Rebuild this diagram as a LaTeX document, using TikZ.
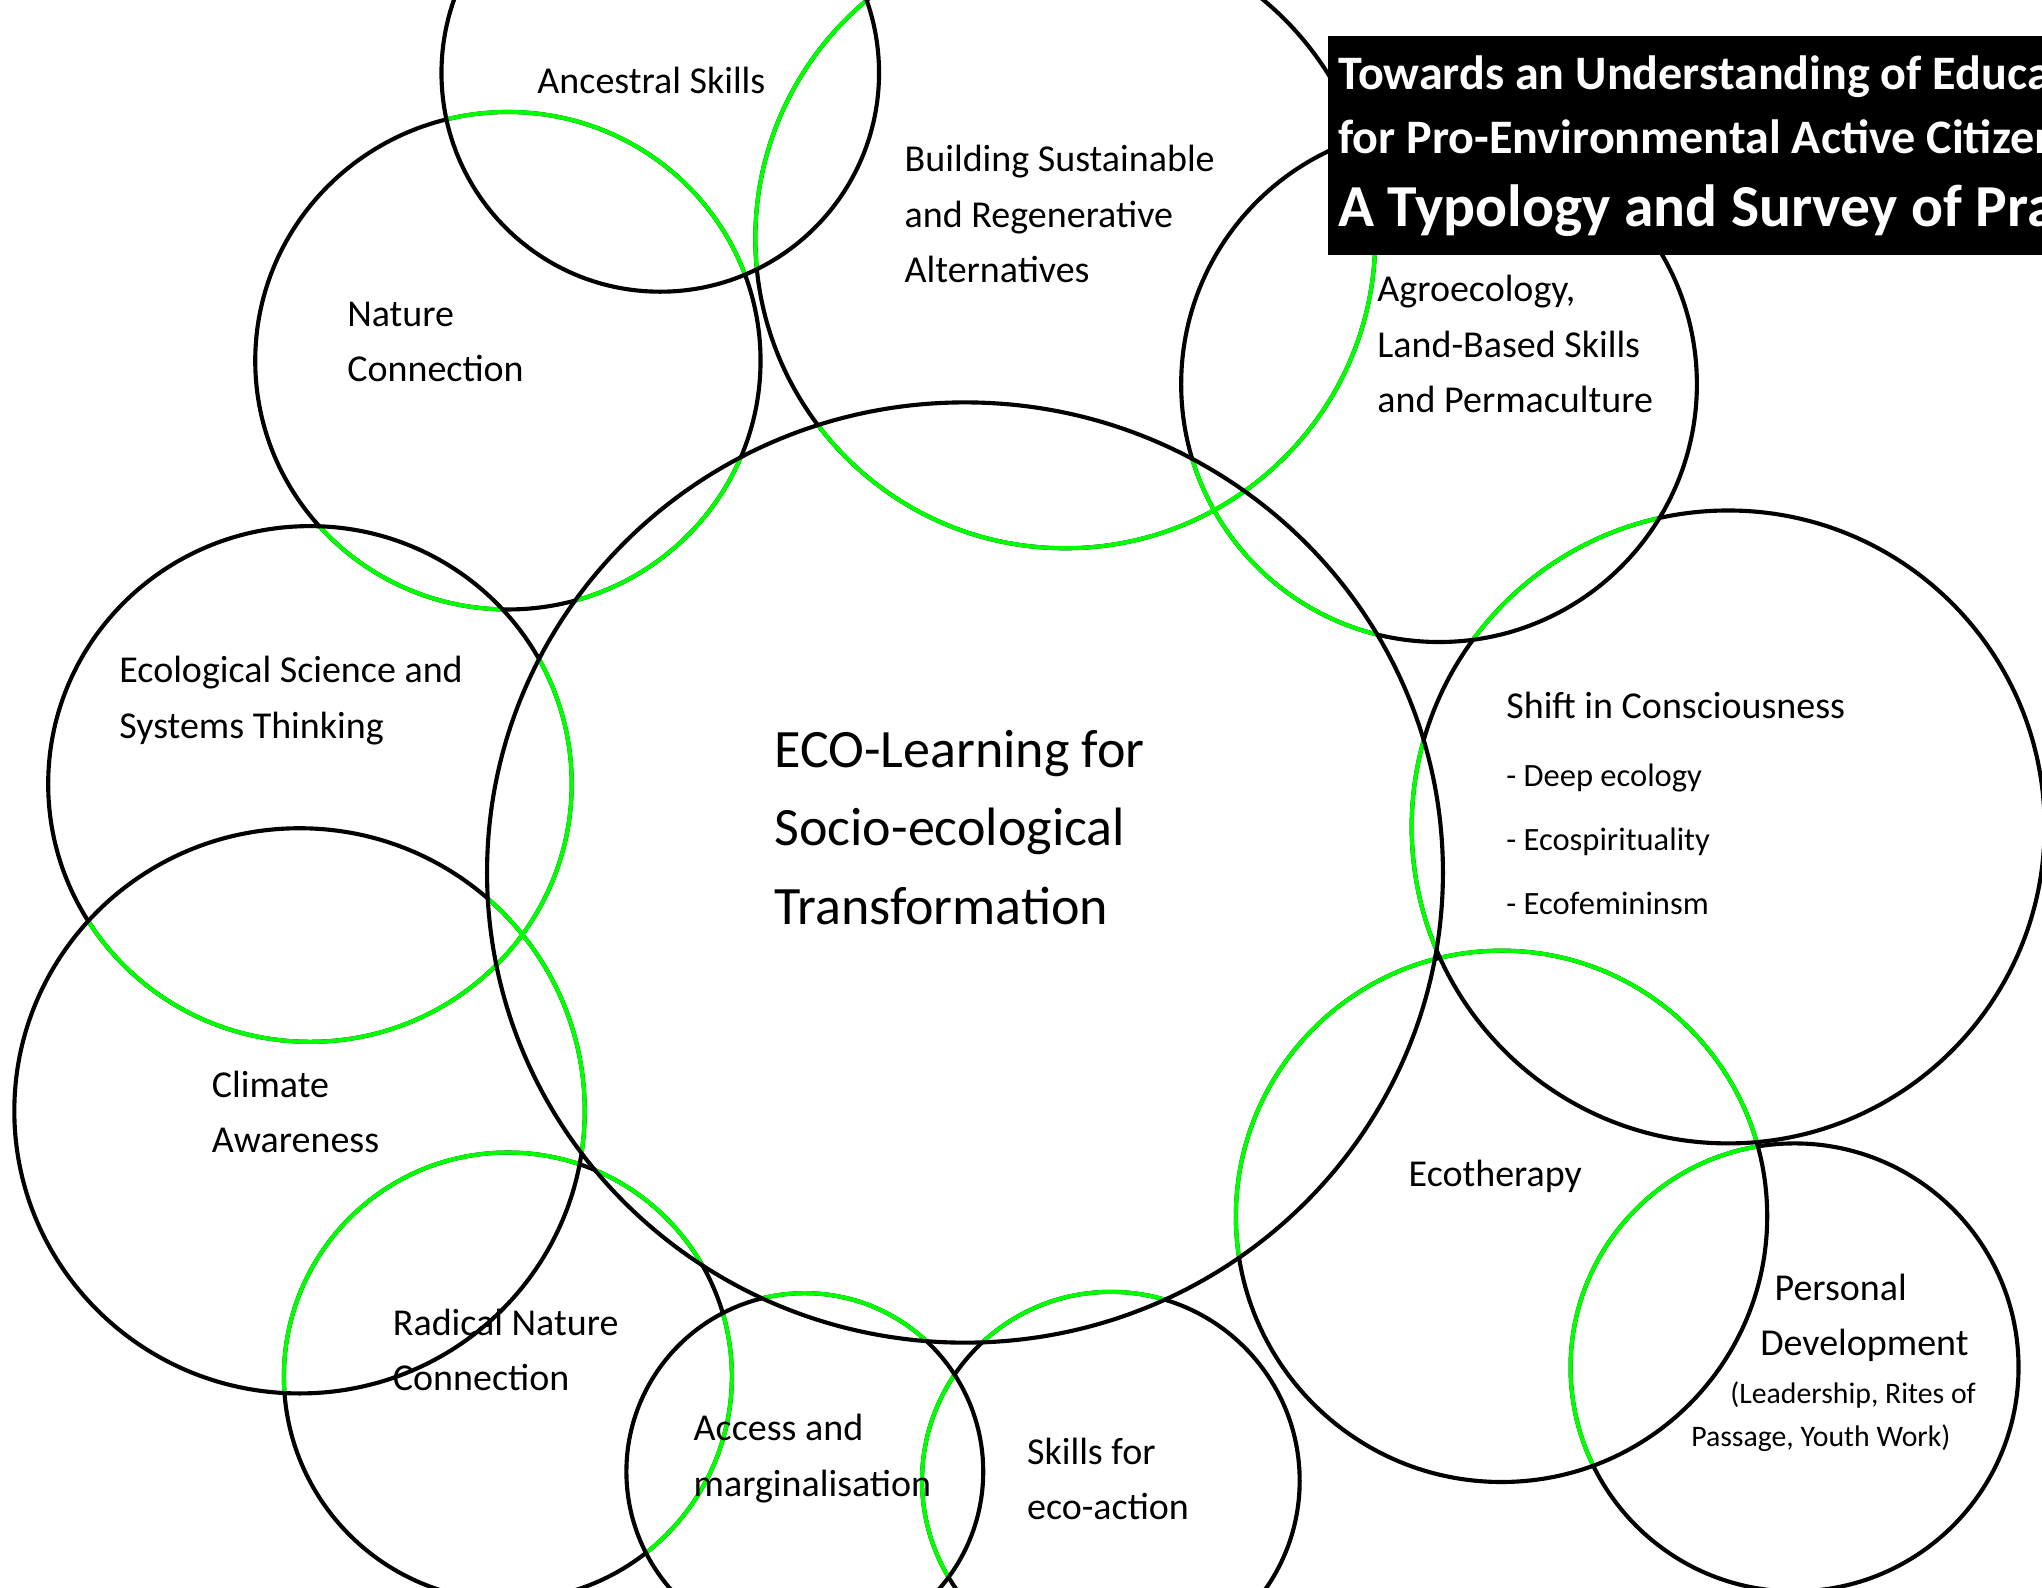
\documentclass[tikz,border=0pt]{standalone}
\usepackage{fontspec}
\setmainfont{Carlito}
\definecolor{ringgreen}{RGB}{0,255,0}
\tikzset{
  ring/.style={line width=0.9pt},
  ringtext/.style={font=\fontsize{8.3}{12.1}\selectfont, align=left, anchor=base west, inner sep=0pt},
  listtext/.style={font=\fontsize{7.1}{13.9}\selectfont, align=left, anchor=base west, inner sep=0pt},
  notetext/.style={font=\fontsize{6.5}{9}\selectfont, anchor=base west, inner sep=0pt},
  hubtext/.style={font=\fontsize{11.8}{17.2}\selectfont, align=left, anchor=base west, inner sep=0pt},
  titletext/.style={text=white, font=\bfseries\fontsize{10.5}{12}\selectfont, anchor=base west, inner sep=0pt}
}
\begin{document}
\begin{tikzpicture}[x=0.01cm,y=-0.01cm]
  \useasboundingbox (0,0) rectangle (1568,1219);
  \clip (0,0) rectangle (1568,1219);

  % rings (x/y/x radius/y radius), lowest first:
  % a ring's stroke turns green where a later ring covers it
  \def\rings{1378/1050/172/172, 1153/934/204/204, 1327/635/243/243,
    818/183/238/238, 1105/295/198/198, 390/277/194/191, 238/602/201/198,
    853/1137/145/145, 390/1057/172/172, 230/853/219/217, 618/1130/137/137,
    507/56/168/168, 741/670/367/361}
  \foreach \x/\y/\rx/\ry [count=\k] in \rings {
    \begin{scope}
      \clip (\x,\y) ellipse[x radius=\rx*0.01cm, y radius=\ry*0.01cm];
      \foreach \xx/\yy/\rrx/\rry [count=\j] in \rings {
        \ifnum\j<\k
          \draw[ring, ringgreen] (\xx,\yy) ellipse[x radius=\rrx*0.01cm, y radius=\rry*0.01cm];
        \fi
      }
    \end{scope}
    \draw[ring] (\x,\y) ellipse[x radius=\rx*0.01cm, y radius=\ry*0.01cm];
  }

  % title block
  \fill (1020,28) rectangle (1600,196);
  \node[titletext] (title1) at (1027,69) {Towards an Understanding of Educa};
  \node[titletext] (title2) at (1027,118) {for Pro-Environmental Active Citizen};
  \node[titletext, font=\bfseries\fontsize{13}{15}\selectfont] (title3) at (1027,174) {A Typology and Survey of Pra};

  % ring labels (multi-line nodes sit on their last line)
  \node[ringtext] (anc) at (412,72) {Ancestral Skills};
  \node[ringtext] (build) at (694,217) {Building Sustainable\\and Regenerative\\Alternatives};
  \node[ringtext] (nat) at (266,293) {Nature\\Connection};
  \node[ringtext] (agro) at (1057,317) {Agroecology,\\Land-Based Skills\\and Permaculture};
  \node[ringtext] (ecosci) at (91,567) {Ecological Science and\\Systems Thinking};
  \node[hubtext] (hub) at (594,710) {ECO-Learning for\\Socio-ecological\\Transformation};
  \node[ringtext] (shift) at (1156,552) {Shift in Consciousness};
  \node[listtext] (shiftlist) at (1156,702) {- Deep ecology\\- Ecospirituality\\- Ecofemininsm};
  \node[ringtext] (clim) at (162,885) {Climate\\Awareness};
  \node[ringtext] (ecoth) at (1081,911) {Ecotherapy};
  \node[ringtext] (radical) at (301,1068) {Radical Nature\\Connection};
  \node[ringtext] (access) at (532,1149) {Access and\\marginalisation};
  \node[ringtext] (skills) at (788,1167) {Skills for\\eco-action};
  \node[ringtext] (pers1) at (1362,999) {Personal};
  \node[ringtext] (pers2) at (1351,1041) {Development};
  \node[notetext] (pers3) at (1328,1078) {(Leadership, Rites of};
  \node[notetext] (pers4) at (1298,1111) {Passage, Youth Work)};
\end{tikzpicture}
\end{document}
